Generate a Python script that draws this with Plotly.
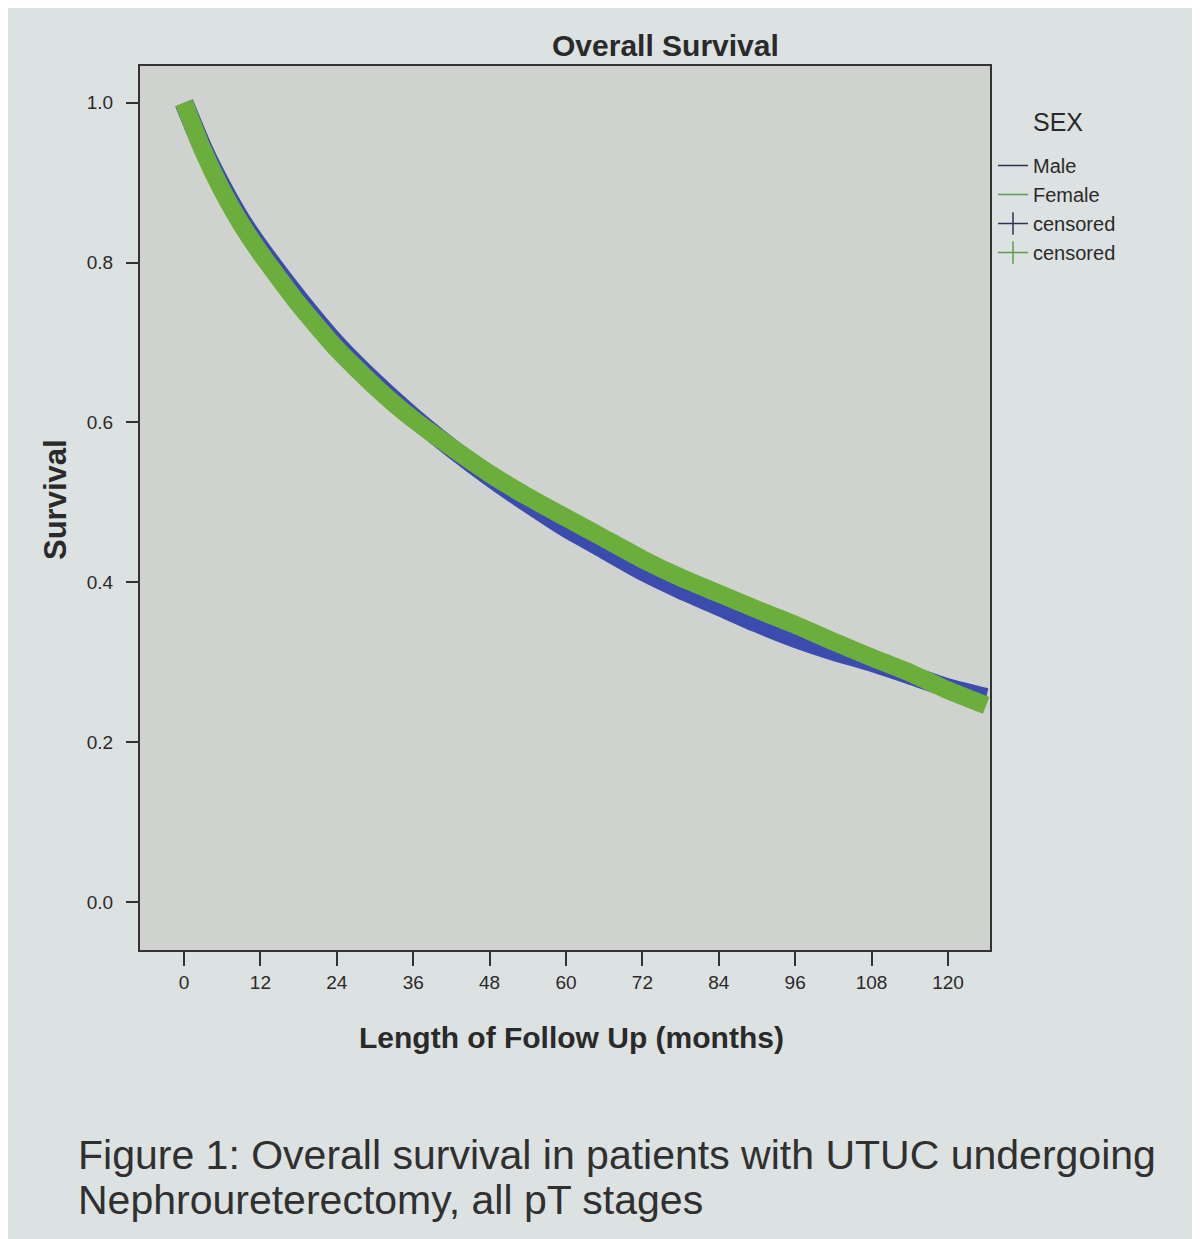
import plotly.graph_objects as go

# ---- data ----
months = [0, 3, 6, 9, 12, 18, 24, 30, 36, 42, 48, 54, 60, 66, 72, 78, 84, 90, 96, 102, 108, 114, 120, 126]
male_survival = [1.0, 0.943, 0.895, 0.853, 0.818, 0.755, 0.698, 0.65, 0.607, 0.568, 0.532, 0.499,
                 0.468, 0.441, 0.414, 0.391, 0.37, 0.349, 0.33, 0.314, 0.3, 0.284, 0.268, 0.256]
female_survival = [1.0, 0.94, 0.89, 0.848, 0.812, 0.748, 0.692, 0.645, 0.604, 0.569, 0.536, 0.507,
                   0.481, 0.455, 0.429, 0.406, 0.386, 0.366, 0.347, 0.326, 0.306, 0.287, 0.265, 0.246]
x_ticks = [0, 12, 24, 36, 48, 60, 72, 84, 96, 108, 120]
y_ticks = [0.0, 0.2, 0.4, 0.6, 0.8, 1.0]
legend_labels = ["Male", "Female", "censored", "censored"]

FONT = "Arial, Liberation Sans, sans-serif"
TXT = "#2a2a2a"
MALE_C = "#3c4cae"
FEMALE_C = "#6bae3b"
MALE_LEG = "#2a3550"
FEMALE_LEG = "#5f9a52"

# plot frame in screen pixels (page has 8px body offset)
L, R, T, B = 140, 990, 66, 950
W, H = R - L, B - T


def px(x):
    return (x - L) / W


def py(y):
    return (B - y) / H


fig = go.Figure()

fig.add_trace(go.Scatter(x=months, y=male_survival, mode="lines",
                         line=dict(color=MALE_C, width=19, shape="spline", smoothing=0.5),
                         showlegend=False, hoverinfo="x+y"))
fig.add_trace(go.Scatter(x=months, y=female_survival, mode="lines",
                         line=dict(color=FEMALE_C, width=18, shape="spline", smoothing=0.5),
                         showlegend=False, hoverinfo="x+y"))

# legend entries
fig.add_trace(go.Scatter(x=[None], y=[None], mode="lines", name=legend_labels[0],
                         line=dict(color=MALE_LEG, width=1.5)))
fig.add_trace(go.Scatter(x=[None], y=[None], mode="lines", name=legend_labels[1],
                         line=dict(color=FEMALE_LEG, width=1.5)))
fig.add_trace(go.Scatter(x=[None], y=[None], mode="lines+markers", name=legend_labels[2],
                         line=dict(color=MALE_LEG, width=1.5),
                         marker=dict(symbol="line-ns-open", size=18, color=MALE_LEG,
                                     line=dict(width=1.5, color=MALE_LEG))))
fig.add_trace(go.Scatter(x=[None], y=[None], mode="lines+markers", name=legend_labels[3],
                         line=dict(color=FEMALE_LEG, width=1.5),
                         marker=dict(symbol="line-ns-open", size=18, color=FEMALE_LEG,
                                     line=dict(width=1.5, color=FEMALE_LEG))))

fig.update_layout(
    width=1200, height=1239,
    margin=dict(l=L - 8, r=1200 - (L - 8) - W, t=T - 8, b=1239 - (T - 8) - H),
    paper_bgcolor="#dce1e1",
    plot_bgcolor="#cfd2ce",
    font=dict(family=FONT, color=TXT),
    showlegend=True,
    legend=dict(
        x=px(993), xanchor="left", y=py(146), yanchor="top",
        bgcolor="rgba(0,0,0,0)",
        font=dict(size=20, color=TXT, family=FONT),
        itemwidth=30,
        tracegroupgap=0,
    ),
    xaxis=dict(
        range=[-6.91, 126.6],
        tickmode="array", tickvals=x_ticks, ticktext=[str(v) for v in x_ticks],
        ticks="outside", ticklen=14, tickwidth=1.5, tickcolor="#333",
        tickfont=dict(size=19, color=TXT),
        showgrid=False, zeroline=False,
        showline=True, linecolor="#333", linewidth=2, mirror=True,
    ),
    yaxis=dict(
        range=[-0.060, 1.046],
        tickmode="array", tickvals=y_ticks, ticktext=[f"{v:.1f}" for v in y_ticks],
        ticks="outside", ticklen=12, tickwidth=1.5, tickcolor="#333",
        ticklabelstandoff=9,
        tickfont=dict(size=19, color=TXT),
        showgrid=False, zeroline=False,
        showline=True, linecolor="#333", linewidth=2, mirror=True,
    ),
    annotations=[
        dict(text="<b>Overall Survival</b>", xref="paper", yref="paper",
             x=px(665), y=py(64), xanchor="center", yanchor="bottom",
             showarrow=False, font=dict(size=30, color=TXT, family=FONT)),
        dict(text="SEX", xref="paper", yref="paper",
             x=px(1058), y=py(122), xanchor="center", yanchor="middle",
             showarrow=False, font=dict(size=25, color=TXT, family=FONT)),
        dict(text="<b>Length of Follow Up (months)</b>", xref="paper", yref="paper",
             x=px(571), y=py(1037), xanchor="center", yanchor="middle",
             showarrow=False, font=dict(size=30, color=TXT, family=FONT)),
        dict(text="<b>Survival</b>", xref="paper", yref="paper", textangle=-90,
             x=px(55), y=py(500), xanchor="center", yanchor="middle",
             showarrow=False, font=dict(size=31, color=TXT, family=FONT)),
        dict(text="Figure 1: Overall survival in patients with UTUC undergoing",
             xref="paper", yref="paper", x=px(76), y=py(1155),
             xanchor="left", yanchor="middle", align="left", showarrow=False,
             font=dict(size=41, color="#303030", family=FONT)),
        dict(text="Nephroureterectomy, all pT stages",
             xref="paper", yref="paper", x=px(76), y=py(1200),
             xanchor="left", yanchor="middle", align="left", showarrow=False,
             font=dict(size=41, color="#303030", family=FONT)),
    ],
)

fig.write_html("out.html")
